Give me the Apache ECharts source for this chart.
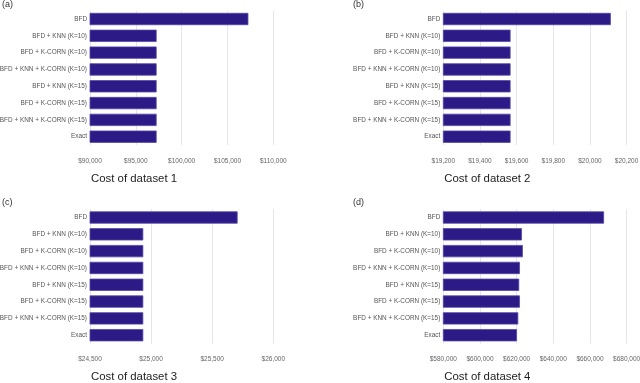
<!DOCTYPE html>
<html>
<head>
<meta charset="utf-8">
<script src="https://cdn.jsdelivr.net/npm/echarts@6/dist/echarts.min.js"></script>
<style>
  html, body { margin: 0; padding: 0; background: #fff; }
  #chart { width: 640px; height: 383px; }
</style>
</head>
<body>
<div id="chart"></div>
<script>
// methods, top to bottom
const categories = [
  'BFD',
  'BFD + KNN (K=10)',
  'BFD + K-CORN (K=10)',
  'BFD + KNN + K-CORN (K=10)',
  'BFD + KNN (K=15)',
  'BFD + K-CORN (K=15)',
  'BFD + KNN + K-CORN (K=15)',
  'Exact'
];

// cost per dataset
const cost1 = [107280, 97270, 97270, 97270, 97270, 97270, 97270, 97270];
const cost2 = [20114, 19567, 19567, 19567, 19567, 19567, 19567, 19567];
const cost3 = [25708, 24936, 24936, 24936, 24936, 24936, 24936, 24936];
const cost4 = [667700, 622900, 623400, 621800, 621400, 621800, 620900, 620200];

// x axis ranges [min, max, interval]
const axis1 = [90000, 110000, 5000];
const axis2 = [19200, 20200, 200];
const axis3 = [24500, 26000, 500];
const axis4 = [580000, 680000, 20000];

const names = ['Cost of dataset 1', 'Cost of dataset 2', 'Cost of dataset 3', 'Cost of dataset 4'];
const panelLabels = ['(a)', '(b)', '(c)', '(d)'];

const font = 'Liberation Sans, Arial, sans-serif';
const barColor = '#2c1a86';

const chart = echarts.init(document.getElementById('chart'));

const panels = [
  { data: cost1, axis: axis1, left: 90, top: 10.6 },
  { data: cost2, axis: axis2, left: 443.3, top: 10.6 },
  { data: cost3, axis: axis3, left: 90, top: 209.1 },
  { data: cost4, axis: axis4, left: 443.3, top: 209.1 }
];
const plotW = 183.3;
const plotH = 134.5;

const money = v => '$' + v.toLocaleString('en-US');

const option = {
  animation: false,
  backgroundColor: '#fff',
  textStyle: { fontFamily: font },
  title: [],
  grid: [],
  xAxis: [],
  yAxis: [],
  series: []
};

panels.forEach((p, i) => {
  option.grid.push({
    left: p.left, top: p.top, width: plotW, height: plotH,
    outerBoundsMode: 'none', containLabel: false
  });

  option.xAxis.push({
    type: 'value',
    gridIndex: i,
    min: p.axis[0],
    max: p.axis[1],
    interval: p.axis[2],
    axisLine: { show: false },
    axisTick: { show: false },
    axisLabel: { color: '#666', fontSize: 6.5, margin: 12.5, formatter: money },
    splitLine: { lineStyle: { color: '#e6e6e6', width: 1 } }
  });

  option.yAxis.push({
    type: 'category',
    gridIndex: i,
    data: categories,
    inverse: true,
    axisLine: { show: false },
    axisTick: { show: false },
    axisLabel: { color: '#555', fontSize: 6.4, margin: 3 },
    splitLine: { show: false }
  });

  option.series.push({
    type: 'bar',
    xAxisIndex: i,
    yAxisIndex: i,
    data: p.data,
    barWidth: '73%',
    itemStyle: { color: barColor, borderColor: '#5546a6', borderWidth: 0.8 }
  });

  option.title.push({
    text: names[i],
    left: p.left + 1,
    top: p.top + plotH + 28,
    padding: 0,
    textStyle: { fontFamily: font, fontSize: 11.4, fontWeight: 'normal', color: '#222' }
  });

  option.title.push({
    text: panelLabels[i],
    left: i % 2 === 0 ? 2 : 353,
    top: i < 2 ? 0 : 198,
    padding: 0,
    textStyle: { fontFamily: font, fontSize: 9, fontWeight: 'normal', color: '#333' }
  });
});

chart.setOption(option);
</script>
</body>
</html>
